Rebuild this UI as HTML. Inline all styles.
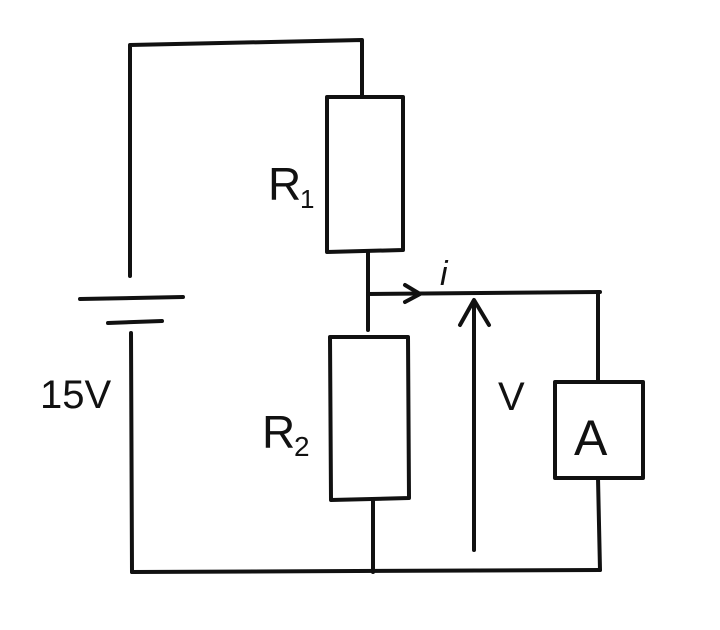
<!DOCTYPE html>
<html>
<head>
<meta charset="utf-8">
<style>
html,body{margin:0;padding:0;background:#fff;}
svg{display:block;}
text{font-family:"Liberation Sans",sans-serif;fill:#111;}
</style>
</head>
<body>
<svg width="720" height="630" viewBox="0 0 720 630" xmlns="http://www.w3.org/2000/svg">
<g fill="none" stroke="#111" stroke-width="4" stroke-linecap="round" stroke-linejoin="round">
  <!-- left loop top -->
  <path d="M130 276 L130 45 L362 40 L362 97"/>
  <!-- battery -->
  <path d="M80 299 L183 297"/>
  <path d="M108 323 L162 321"/>
  <path d="M131 333 L132 572"/>
  <!-- bottom wire -->
  <path d="M132 572 L600 570"/>
  <!-- R1 -->
  <path d="M327 97 L403 97 L403 250 L327 252 Z"/>
  <path d="M368 252 L368 330"/>
  <!-- junction horizontal -->
  <path d="M368 294 L600 292"/>
  <!-- current arrow -->
  <path d="M405 285 L420 294 L405 302"/>
  <!-- R2 -->
  <path d="M330 337 L408 337 L409 498 L331 500 Z"/>
  <path d="M373 500 L373 572"/>
  <!-- voltage arrow -->
  <path d="M474 550 L474 302"/>
  <path d="M460 325 L474 300 L489 325"/>
  <!-- ammeter -->
  <path d="M598 292 L598 382"/>
  <path d="M555 382 L643 382 L643 478 L555 478 Z"/>
  <path d="M598 478 L600 570"/>
</g>
<text x="268" y="200" font-size="46">R</text>
<text x="300" y="208" font-size="26">1</text>
<text x="262" y="448" font-size="46">R</text>
<text x="294" y="456" font-size="28">2</text>
<text x="40" y="408" font-size="40">15V</text>
<text x="440" y="285" font-size="34" font-style="italic">i</text>
<text x="498" y="410" font-size="40">V</text>
<text x="574" y="455" font-size="50">A</text>
</svg>
</body>
</html>
